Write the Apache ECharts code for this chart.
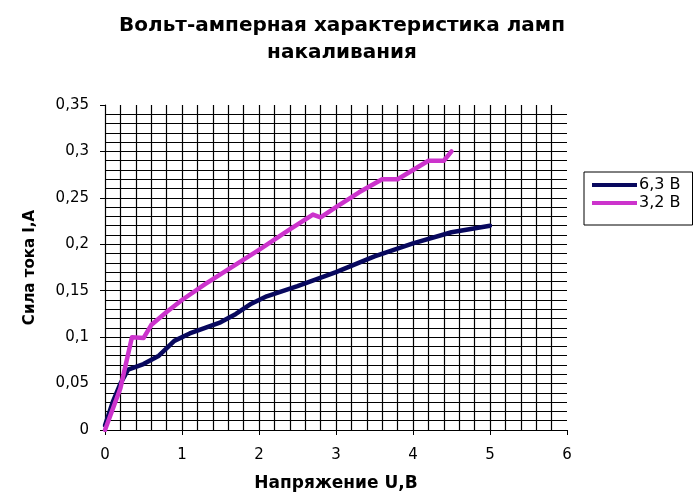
<!DOCTYPE html>
<html>
<head>
<meta charset="utf-8">
<script src="https://cdn.jsdelivr.net/npm/echarts@6/dist/echarts.min.js"></script>
<style>html,body{margin:0;padding:0;background:#fff;}#c{width:697px;height:503px;}</style>
</head>
<body>
<div id="c"></div>
<script>
const titleText = 'Вольт-амперная характеристика ламп\nнакаливания';
const xAxisName = 'Напряжение U,B';
const yAxisName = 'Сила тока I,A';
const seriesNames = ['6,3 В', '3,2 В'];
const seriesColors = ['#08085e', '#cc33cc'];

const voltage63 = [0, 0.1, 0.2, 0.3, 0.5, 0.7, 0.9, 1.1, 1.3, 1.5, 1.7, 1.9, 2.1, 2.5, 3.0, 3.5, 4.0, 4.5, 5.0];
const current63 = [0.005, 0.03, 0.05, 0.065, 0.071, 0.08, 0.096, 0.104, 0.11, 0.116, 0.125, 0.136, 0.144, 0.155, 0.17, 0.187, 0.201, 0.213, 0.22];

const voltage32 = [0, 0.2, 0.35, 0.5, 0.6, 0.8, 1.0, 1.3, 1.6, 2.0, 2.4, 2.7, 2.8, 3.0, 3.3, 3.6, 3.8, 4.0, 4.2, 4.4, 4.5];
const current32 = [0, 0.045, 0.1, 0.099, 0.113, 0.127, 0.14, 0.157, 0.173, 0.194, 0.216, 0.232, 0.229, 0.24, 0.256, 0.27, 0.27, 0.28, 0.29, 0.29, 0.30];

const xTicks = {min: 0, max: 6, interval: 1, minor: 5};
const yTicks = {min: 0, max: 0.35, interval: 0.05, minor: 5};

function pairs(xs, ys) { return xs.map((x, i) => [x, ys[i]]); }

const FONT = '"DejaVu Sans", "Liberation Sans", Arial, sans-serif';
const chart = echarts.init(document.getElementById('c'), null, {renderer: 'canvas'});
const gridLine = {show: true, lineStyle: {color: '#000', width: 1.2}};
chart.setOption({
  animation: false,
  backgroundColor: '#fff',
  title: {
    text: titleText,
    left: 337, top: 7, textAlign: 'center',
    textStyle: {fontFamily: FONT, fontSize: 20, fontWeight: 'bold', color: '#000', lineHeight: 27}
  },
  legend: {
    orient: 'vertical',
    left: 584, top: 172,
    padding: [5, 12, 14, 8],
    itemGap: 2,
    itemWidth: 45, itemHeight: 4,
    icon: 'rect',
    borderColor: '#000', borderWidth: 1,
    textStyle: {fontFamily: FONT, fontSize: 16, color: '#000', padding: [0, 0, 0, -3]},
    data: seriesNames
  },
  grid: {left: 105, right: 130, top: 105, bottom: 73, containLabel: false},
  xAxis: {
    type: 'value', min: xTicks.min, max: xTicks.max, interval: xTicks.interval,
    name: xAxisName, nameLocation: 'middle', nameGap: 45,
    nameTextStyle: {fontFamily: FONT, fontSize: 17, fontWeight: 'bold', color: '#000'},
    axisLine: {show: true, lineStyle: {color: '#000', width: 1.2}},
    axisTick: {show: true, inside: false, length: 5, lineStyle: {color: '#000'}},
    axisLabel: {fontFamily: FONT, fontSize: 15, color: '#000', margin: 18},
    splitLine: Object.assign({showMinLine: false, showMaxLine: false}, gridLine),
    minorTick: {show: false, splitNumber: xTicks.minor},
    minorSplitLine: {show: true, lineStyle: {color: '#000', width: 1.2}}
  },
  yAxis: {
    type: 'value', min: yTicks.min, max: yTicks.max, interval: yTicks.interval,
    name: yAxisName, nameLocation: 'middle', nameGap: 67, nameRotate: 90,
    nameTextStyle: {fontFamily: FONT, fontSize: 15, fontWeight: 'bold', color: '#000'},
    axisLine: {show: true, lineStyle: {color: '#000', width: 1.2}},
    axisTick: {show: true, inside: false, length: 5, lineStyle: {color: '#000'}},
    axisLabel: {fontFamily: FONT, fontSize: 15, color: '#000', margin: 16,
      formatter: v => String(+v.toFixed(2)).replace('.', ',')},
    splitLine: Object.assign({showMinLine: false, showMaxLine: false}, gridLine),
    minorTick: {show: false, splitNumber: yTicks.minor},
    minorSplitLine: {show: true, lineStyle: {color: '#000', width: 1.2}}
  },
  series: [
    {name: seriesNames[0], type: 'line', data: pairs(voltage63, current63), showSymbol: false, symbol: 'none',
     color: seriesColors[0], lineStyle: {width: 4.5, color: seriesColors[0], join: 'round', cap: 'round'}, z: 3},
    {name: seriesNames[1], type: 'line', data: pairs(voltage32, current32), showSymbol: false, symbol: 'none',
     color: seriesColors[1], lineStyle: {width: 4.5, color: seriesColors[1], join: 'round', cap: 'round'}, z: 4}
  ]
});
</script>
</body>
</html>
